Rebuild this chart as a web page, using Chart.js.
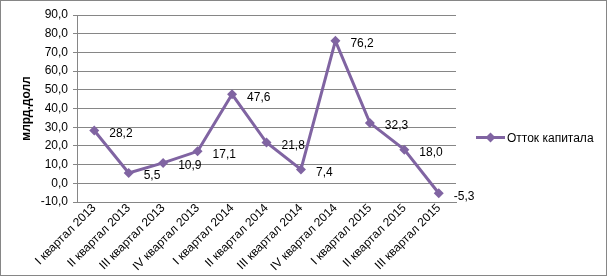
<!DOCTYPE html>
<html>
<head>
<meta charset="utf-8">
<script src="https://cdn.jsdelivr.net/npm/chart.js@4/dist/chart.umd.min.js"></script>
<style>
  body { margin: 0; background: #fff; }
  #wrap { width: 607px; height: 276px; position: relative; }
</style>
</head>
<body>
<div id="wrap"><canvas id="chart"></canvas></div>
<script>
const quarters = [
  "I квартал 2013", "II квартал 2013", "III квартал 2013", "IV квартал 2013",
  "I квартал 2014", "II квартал 2014", "III квартал 2014", "IV квартал 2014",
  "I квартал 2015", "II квартал 2015", "III квартал 2015"
];
const outflow = [28.2, 5.5, 10.9, 17.1, 47.6, 21.8, 7.4, 76.2, 32.3, 18.0, -5.3];
const seriesName = "Отток капитала";
const axisTitle = "млрд.долл";

const purple = "#8064A2";
const gridGray = "#868686";
const font = "Liberation Sans, Arial, sans-serif";

function formatComma(v) {
  return v.toFixed(1).replace(".", ",");
}

// outer frame + legend with line and marker
const framePlugin = {
  id: "frame",
  afterDraw(chart) {
    const ctx = chart.ctx;
    ctx.save();
    ctx.strokeStyle = gridGray;
    ctx.lineWidth = 1;
    ctx.strokeRect(0.5, 0.5, chart.width - 1, chart.height - 1);

    // legend
    const y = 137.5;
    ctx.strokeStyle = purple;
    ctx.lineWidth = 3;
    ctx.beginPath();
    ctx.moveTo(476, y);
    ctx.lineTo(505, y);
    ctx.stroke();
    ctx.fillStyle = purple;
    ctx.beginPath();
    ctx.moveTo(490.5, y - 5);
    ctx.lineTo(495.5, y);
    ctx.lineTo(490.5, y + 5);
    ctx.lineTo(485.5, y);
    ctx.closePath();
    ctx.fill();
    ctx.fillStyle = "#000";
    ctx.font = "12px " + font;
    ctx.textBaseline = "middle";
    ctx.textAlign = "left";
    ctx.fillText(seriesName, 507, y + 1);
    ctx.restore();
  },
};

// value labels to the right of each point
const valueLabels = {
  id: "valueLabels",
  afterDatasetsDraw(chart) {
    const ctx = chart.ctx;
    const meta = chart.getDatasetMeta(0);
    ctx.save();
    ctx.font = "12px " + font;
    ctx.fillStyle = "#000";
    ctx.textBaseline = "middle";
    ctx.textAlign = "left";
    meta.data.forEach((pt, i) => {
      ctx.fillText(formatComma(outflow[i]), pt.x + 15, pt.y + 3);
    });
    ctx.restore();
  },
};

new Chart(document.getElementById("chart"), {
  type: "line",
  data: {
    labels: quarters,
    datasets: [{
      label: seriesName,
      data: outflow,
      borderColor: purple,
      backgroundColor: purple,
      borderWidth: 3,
      pointStyle: "rectRot",
      pointRadius: 5,
      pointBorderWidth: 0,
      tension: 0,
    }],
  },
  options: {
    responsive: true,
    maintainAspectRatio: false,
    animation: false,
    layout: { padding: { left: 15, right: 151, top: 15, bottom: 0 } },
    plugins: {
      legend: { display: false },
      tooltip: { enabled: false },
    },
    scales: {
      x: {
        offset: true,
        grid: { display: false },
        border: { display: true, color: gridGray },
        ticks: {
          autoSkip: false,
          minRotation: 45,
          maxRotation: 45,
          padding: -9,
          color: "#000",
          font: { family: font, size: 12 },
        },
        afterFit: (scale) => { scale.height = 74; },
      },
      y: {
        min: -10,
        max: 90,
        grid: { color: gridGray, tickLength: 4 },
        border: { display: true, color: gridGray },
        ticks: {
          stepSize: 10,
          padding: 5,
          color: "#000",
          font: { family: font, size: 12 },
          callback: (v) => formatComma(v),
        },
        title: {
          display: true,
          text: axisTitle,
          color: "#000",
          padding: { top: 4, bottom: 0 },
          font: { family: font, size: 12, weight: "bold" },
        },
        afterFit: (scale) => { scale.width = 62; },
      },
    },
  },
  plugins: [valueLabels, framePlugin],
});
</script>
</body>
</html>
